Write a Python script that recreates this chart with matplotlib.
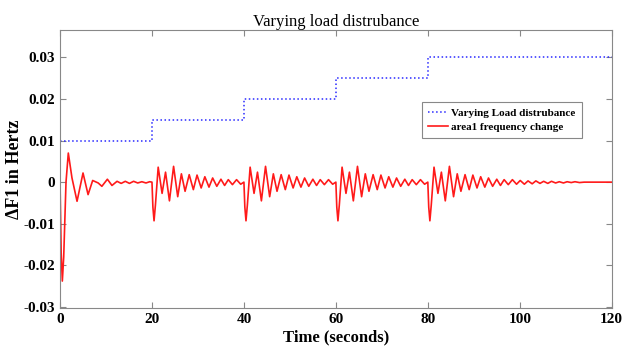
import numpy as np
import matplotlib
matplotlib.use("Agg")
import matplotlib.pyplot as plt

plt.rcParams['font.family'] = ['Liberation Serif', 'DejaVu Serif']

# Varying load disturbance (step levels)
step_times = [0, 20, 40, 60, 80, 120]
step_levels = [0.01, 0.015, 0.02, 0.025, 0.03, 0.03]

# first 20 s: response to the initial 0.01 step
first_t = [0, 0.25, 0.5, 0.8, 1.3, 1.8, 2.6, 3.7, 5.0, 6.1, 7.1, 8.3, 9.1, 10.3,
           11.3, 12.4, 13.3, 14.2, 15.1, 16.0, 16.9, 17.8, 18.7, 19.5, 20.0]
first_v = [0, -0.0170, -0.0238, -0.0180, 0.0, 0.0070, 0.0010, -0.0046, 0.0022,
           -0.0030, 0.0004, -0.0002, -0.0010, 0.0007, -0.0008, 0.0002, -0.0003,
           0.0002, -0.0003, 0.0002, -0.0002, 0.0001, -0.0002, 0.0001, 0.0]

# response after each later step, time measured from the step (read from the 80 s step)
resp_dt = [0, 0.2, 0.45, 0.75, 1.35, 2.2, 2.95, 3.8, 4.7, 5.6, 6.4, 7.2, 8.1, 9.0,
           9.8, 10.7, 11.5, 12.4, 13.2, 14.1, 15.0, 15.8, 16.6, 17.5, 18.4, 19.3,
           20.1, 21.0, 21.8, 22.7, 23.5, 24.4, 25.2, 26.1, 26.9, 27.8, 28.6, 29.5,
           30.3, 31.2, 32.0, 33.0, 34.0, 40.0]
resp_v = [0, -0.0060, -0.0093, -0.0055, 0.0036, -0.0027, 0.0024, -0.0045, 0.0038,
          -0.0035, 0.0020, -0.0022, 0.0018, -0.0018, 0.0017, -0.0014, 0.0013,
          -0.0012, 0.0010, -0.0010, 0.0007, -0.0008, 0.0006, -0.0006, 0.0006,
          -0.0005, 0.0004, -0.0005, 0.0003, -0.0004, 0.0003, -0.0003, 0.0002,
          -0.0003, 0.0002, -0.0002, 0.0001, -0.0002, 0.0001, -0.0001, 0.0001,
          -0.0001, 0.0, 0.0]

t_red = list(first_t)
v_red = list(first_v)
for k, ts in enumerate(step_times[1:5]):
    end = step_times[k + 2]
    for d, v in zip(resp_dt, resp_v):
        if d == 0:
            continue
        if ts + d < end or (ts == 80 and ts + d <= end):
            t_red.append(ts + d)
            v_red.append(v)
    if ts < 80:
        t_red.append(end)
        v_red.append(0.0)

fig = plt.figure(figsize=(6.24, 3.6), dpi=100)
ax = fig.add_axes([0.0962, 0.1453, 0.8841, 0.7714])

ax.plot(step_times, step_levels, drawstyle='steps-post', color='#2a2aff',
        linestyle=':', lw=1.1, label='Varying Load distrubance')
ax.plot(t_red, v_red, color='#ff1a1a', lw=1.2, label='area1 frequency change')

ax.set_xlim(0, 120)
ax.set_ylim(-0.0302, 0.0366)
ax.set_xticks([0, 20, 40, 60, 80, 100, 120])
ax.set_yticks([-0.03, -0.02, -0.01, 0, 0.01, 0.02, 0.03])
ax.set_yticklabels(['-0.03', '-0.02', '-0.01', '0', '0.01', '0.02', '0.03'])

for s in ax.spines.values():
    s.set_color('#888888')
    s.set_linewidth(0.8)
ax.tick_params(direction='in', top=True, right=True, length=4, color='#888888',
               labelsize=11)
for lab in ax.get_xticklabels() + ax.get_yticklabels():
    lab.set_fontweight('bold')

ax.set_title('Varying load distrubance', fontsize=12, pad=3)
ax.set_xlabel('Time (seconds)', fontsize=12, fontweight='bold', labelpad=3)
ax.set_ylabel('ΔF1 in Hertz', fontsize=13, fontweight='bold')
ax.yaxis.set_label_coords(-0.068, 0.5)

leg = ax.legend(loc='upper left', bbox_to_anchor=(0.6556, 0.7396),
                prop={'weight': 'bold', 'size': 8}, fancybox=False,
                framealpha=1, edgecolor='#888888', handlelength=1.8,
                borderpad=0.55, labelspacing=0.35, borderaxespad=0,
                handletextpad=0.3)
leg.get_frame().set_linewidth(0.8)

fig.savefig('out.png', dpi=100)
